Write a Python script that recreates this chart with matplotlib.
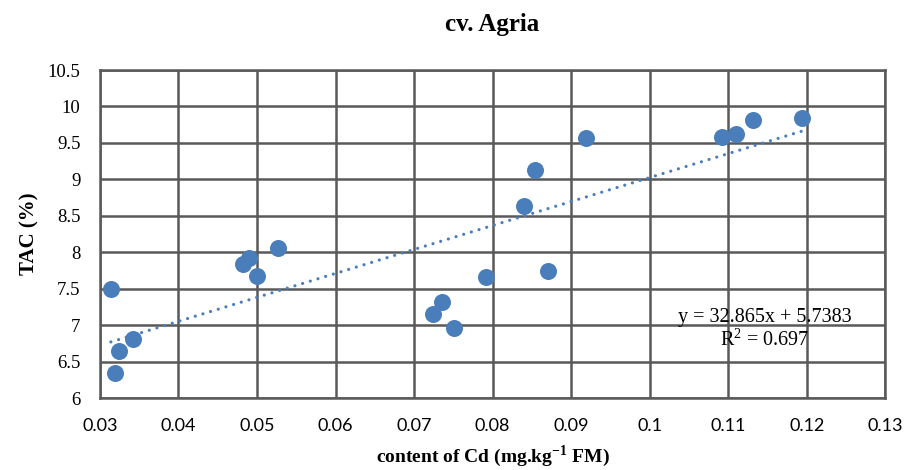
import matplotlib.pyplot as plt
import numpy as np
from matplotlib.ticker import FuncFormatter

# Cd content vs TAC, cultivar Agria
cd_content = [0.0314, 0.0319, 0.0324, 0.0342, 0.0482, 0.0490, 0.0500, 0.0527,
              0.0724, 0.0736, 0.0751, 0.0792, 0.0840, 0.0854, 0.0871, 0.0919,
              0.1092, 0.1110, 0.1132, 0.1194]
tac = [7.50, 6.34, 6.64, 6.81, 7.84, 7.92, 7.67, 8.06,
       7.15, 7.32, 6.96, 7.66, 8.63, 9.13, 7.75, 9.57,
       9.58, 9.62, 9.81, 9.84]
slope, intercept = 32.865, 5.7383
r2 = 0.697

x_ticks = [0.03, 0.04, 0.05, 0.06, 0.07, 0.08, 0.09, 0.10, 0.11, 0.12, 0.13]
y_ticks = [6, 6.5, 7, 7.5, 8, 8.5, 9, 9.5, 10, 10.5]

blue = '#4A7EBB'
grid_col = '#595959'
serif = 'Liberation Serif'

plt.rcParams['mathtext.fontset'] = 'custom'
plt.rcParams['mathtext.rm'] = serif
plt.rcParams['mathtext.bf'] = serif + ':bold'

fig = plt.figure(figsize=(9.08, 4.70), dpi=100)
ax = fig.add_axes([0.110, 0.153, 0.865, 0.698])

ax.scatter(cd_content, tac, s=150, color=blue, zorder=3, linewidths=0)

xs = np.array([min(cd_content), max(cd_content)])
ax.plot(xs, slope * xs + intercept, color=blue, linestyle=(0, (0.01, 2.5)),
        linewidth=2.3, dash_capstyle='round', zorder=2)

ax.set_xlim(0.03, 0.13)
ax.set_ylim(6, 10.5)
ax.set_xticks(x_ticks)
ax.set_yticks(y_ticks)
ax.xaxis.set_major_formatter(FuncFormatter(lambda v, p: ('%.2f' % v).rstrip('0').rstrip('.')))
ax.yaxis.set_major_formatter(FuncFormatter(lambda v, p: '%g' % v))
ax.tick_params(length=0, colors='#000000')
ax.tick_params(axis='x', labelsize=13, pad=14, labelfontfamily='Lato')
ax.tick_params(axis='y', labelsize=13.5, pad=14, labelfontfamily=serif)

ax.grid(True, color=grid_col, linewidth=1.8)
ax.set_axisbelow(True)
for sp in ax.spines.values():
    sp.set_color(grid_col)
    sp.set_linewidth(1.8)

ax.set_xlabel(r'content of Cd (mg.kg$^{\mathbf{-1}}$ FM)', family=serif,
              fontweight='bold', fontsize=14, va='center')
ax.xaxis.set_label_coords(0.5, -0.178)
ax.set_ylabel('TAC (%)', family=serif, fontweight='bold',
              fontsize=15, labelpad=6)
ax.set_title('cv. Agria', family=serif, fontweight='bold',
             fontsize=18, pad=28)

ax.text(0.1147, 7.11, 'y = %.3fx + %.4f' % (slope, intercept), ha='center',
        va='center', family=serif, fontsize=14.5)
ax.text(0.1147, 6.80, 'R$^2$ = %.3f' % r2, ha='center', va='center',
        family=serif, fontsize=14.5)

plt.savefig('out.png', dpi=100)
plt.close()
